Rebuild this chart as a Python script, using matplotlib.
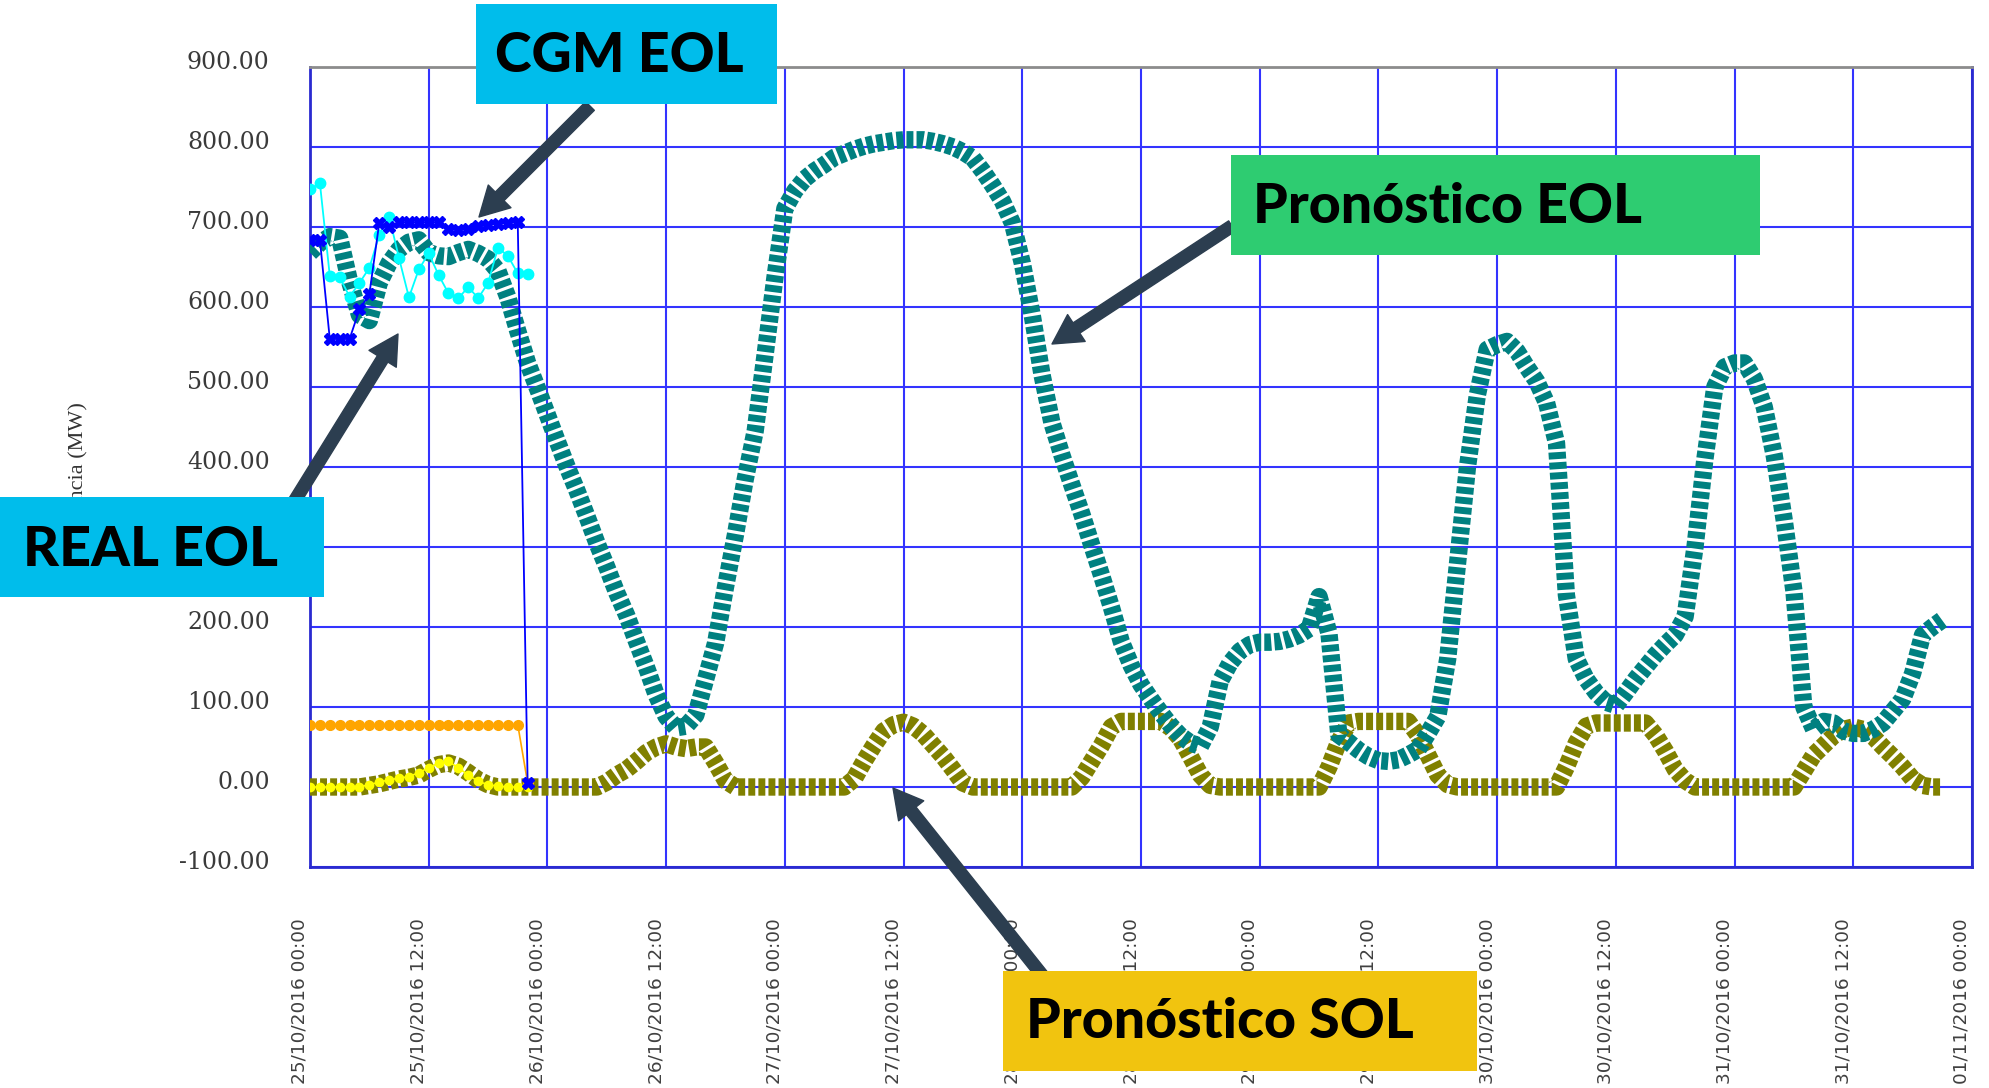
import matplotlib
matplotlib.use('Agg')
import matplotlib.pyplot as plt
import matplotlib.dates as mdates
from matplotlib.patches import Rectangle, FancyArrowPatch
from matplotlib.transforms import ScaledTranslation
import pandas as pd

# hourly values from 25/10/2016 00:00
pron_eol = [668, 680, 688, 686, 632, 590, 583, 630, 655, 672, 681, 684,
            668, 664, 663, 668, 672, 667, 660, 645, 612, 570, 530, 498,
            465, 432, 400, 370, 338, 305, 275, 243, 215, 182, 150, 115,
            88, 74, 76, 90, 135, 180, 250, 315, 385, 445, 540, 637,
            723, 745, 760, 770, 778, 787, 792, 797, 801, 804, 806, 808,
            809, 809, 809, 807, 804, 800, 794, 786, 770, 752, 732, 705,
            655, 590, 515, 455, 415, 378, 342, 303, 265, 225, 182, 152,
            128, 110, 93, 77, 64, 55, 51, 75, 132, 155, 170, 178,
            181, 181, 182, 185, 190, 198, 238, 192, 65, 56, 46, 38,
            33, 32, 34, 40, 47, 67, 88, 160, 280, 400, 490, 547,
            553, 557, 545, 525, 507, 480, 430, 240, 160, 135, 118, 106,
            102, 118, 135, 150, 165, 178, 190, 213, 300, 410, 500, 525,
            530, 530, 510, 475, 415, 335, 245, 100, 72, 82, 80, 70,
            67, 67, 72, 80, 95, 110, 142, 190, 200, 209]

pron_sol = [0, 0, 0, 0, 0, 0, 2, 4, 7, 10, 12, 15,
            22, 28, 30, 26, 18, 9, 3, 0, 0, 0, 0, 0,
            0, 0, 0, 0, 0, 0, 6, 15, 22, 32, 43, 50,
            54, 50, 48, 50, 50, 30, 8, 0, 0, 0, 0, 0,
            0, 0, 0, 0, 0, 0, 0, 10, 32, 52, 70, 78,
            81, 76, 66, 52, 38, 22, 5, 0, 0, 0, 0, 0,
            0, 0, 0, 0, 0, 0, 12, 32, 52, 75, 82, 82,
            82, 82, 82, 74, 60, 38, 15, 2, 0, 0, 0, 0,
            0, 0, 0, 0, 0, 0, 0, 25, 57, 80, 82, 82,
            82, 82, 82, 82, 65, 40, 15, 3, 0, 0, 0, 0,
            0, 0, 0, 0, 0, 0, 0, 25, 55, 76, 80, 80,
            80, 80, 80, 80, 65, 45, 22, 8, 0, 0, 0, 0,
            0, 0, 0, 0, 0, 0, 0, 20, 40, 52, 64, 72,
            75, 72, 63, 50, 38, 25, 10, 2, 0, 0]

real_eol = [747, 755, 639, 637, 613, 630, 649, 690, 713, 661, 612, 647,
            667, 640, 617, 611, 625, 611, 630, 674, 664, 642, 641]

cgm_eol = [684, 684, 560, 560, 560, 597, 616, 705, 700, 706, 706, 706,
           706, 706, 697, 696, 697, 701, 703, 704, 705, 706, 5]

cgm_sol = [78, 78, 78, 78, 78, 78, 78, 78, 78, 78, 78, 78,
           78, 78, 78, 78, 78, 78, 78, 78, 78, 78, 5]

real_sol = [0, 0, 0, 0, 0, 0, 3, 6, 9, 11, 13, 18,
            24, 30, 32, 24, 15, 7, 3, 1, 0, 0, 0]

W, H = 1990, 1088


def fx(x):
    return x / W


def fy(y):
    return 1 - y / H


start = pd.Timestamp('2016-10-25 00:00')
t_fc = pd.date_range(start, periods=len(pron_eol), freq='h')
t_real = pd.date_range(start, periods=len(real_eol), freq='h')

fig = plt.figure(figsize=(W / 100, H / 100), dpi=100)
ax = fig.add_axes([fx(310), fy(867), fx(1972) - fx(310), fy(67) - fy(867)])

ax.plot(t_fc, pron_sol, color='#808000', lw=12.5, dashes=(0.4, 0.18), zorder=3)
ax.plot(t_fc, pron_eol, color='#008080', lw=12.5, dashes=(0.4, 0.18), zorder=4)
ax.plot(t_real, cgm_sol, color='#FFA500', lw=1.2, marker='o', ms=7, zorder=5)
ax.plot(t_real, real_sol, color='#FFFF00', lw=1.2, marker='o', ms=6, zorder=5)
ax.plot(t_real, real_eol, color='#00FFFF', lw=1.3, marker='o', ms=7.5, zorder=6)
ax.plot(t_real, cgm_eol, color='#0000FF', lw=1.3, marker='X', ms=9, zorder=7)

ax.set_ylim(-100, 900)
ax.set_yticks(range(-100, 901, 100))
ax.yaxis.set_major_formatter(plt.FuncFormatter(lambda v, p: f'{v:.2f}'))
ax.set_xlim(start, start + pd.Timedelta(days=7))
ax.xaxis.set_major_locator(mdates.HourLocator(byhour=[0, 12]))
ax.xaxis.set_major_formatter(mdates.DateFormatter('%d/%m/%Y %H:%M'))

ax.tick_params(axis='x', length=0, pad=37, labelsize=13.3, labelcolor='#404040', labelrotation=90)
ax.tick_params(axis='y', length=0, pad=29, labelsize=17, labelcolor='#3a3a3a')
for lbl in ax.get_xticklabels():
    lbl.set_fontfamily('DejaVu Sans')
    lbl.set_transform(lbl.get_transform() + ScaledTranslation(-0.1, 0, fig.dpi_scale_trans))
for lbl in ax.get_yticklabels():
    lbl.set_fontfamily('DejaVu Serif')
    lbl.set_transform(lbl.get_transform() + ScaledTranslation(0, 0.07, fig.dpi_scale_trans))

ax.grid(True, color='#3333ff', lw=1.5)
ax.set_axisbelow(True)
for side in ['left', 'bottom', 'right']:
    ax.spines[side].set_color('#2a2ad0')
    ax.spines[side].set_linewidth(2)
ax.spines['top'].set_color('#8c8c8c')
ax.spines['top'].set_linewidth(2)

fig.text(fx(79), fy(471), 'Potencia (MW)', rotation=90, ha='center', va='center',
         family='Liberation Serif', size=16, color='#333333', zorder=1)

# callout boxes and arrows
boxes = [
    ('CGM EOL', (476, 4, 777, 104), '#00BDEB', (495, 72), (590, 106), (479, 217)),
    ('Pronóstico EOL', (1231, 155, 1760, 255), '#2ECC71', (1253, 223), (1232, 226), (1052, 344)),
    ('REAL EOL', (0, 497, 324, 597), '#00BDEB', (23, 566), (284, 518), (398, 334)),
    ('Pronóstico SOL', (1003, 971, 1477, 1071), '#F1C40F', (1026, 1038), (1042, 975), (893, 788)),
]
for text, (x0, y0, x1, y1), col, (tx, ty), tail, tip in boxes:
    arrow = FancyArrowPatch((fx(tail[0]), fy(tail[1])), (fx(tip[0]), fy(tip[1])),
                            transform=fig.transFigure, color='#2C3E50', shrinkA=0, shrinkB=0,
                            arrowstyle='simple,head_length=1.0,head_width=1.1,tail_width=0.42',
                            mutation_scale=21, zorder=8)
    fig.add_artist(arrow)
    fig.add_artist(Rectangle((fx(x0), fy(y1)), fx(x1) - fx(x0), fy(y0) - fy(y1),
                             transform=fig.transFigure, facecolor=col, edgecolor='none', zorder=9))
    fig.text(fx(tx), fy(ty), text, ha='left', va='baseline', family='Lato',
             fontweight='black', size=40, color='black', zorder=10)

fig.savefig('out.png', dpi=100)
